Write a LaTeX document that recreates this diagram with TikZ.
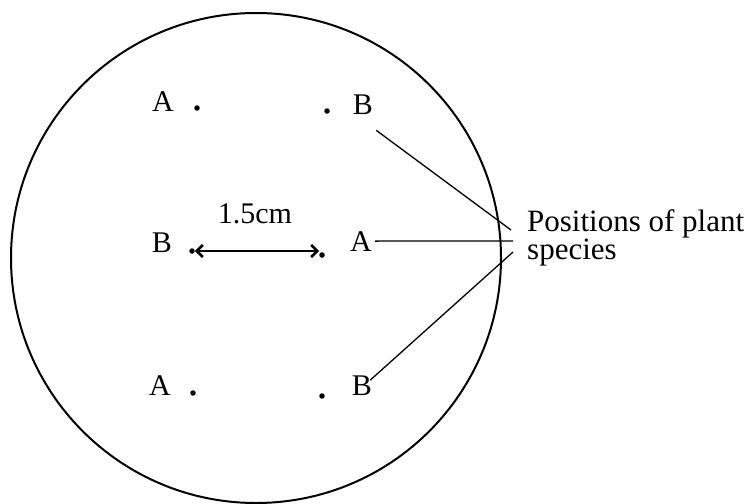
\documentclass[tikz,border=0pt]{standalone}
\usepackage{fontspec}
\setmainfont{Liberation Serif}
\usepackage{tikz}
\usetikzlibrary{arrows.meta,calc}
\tikzset{>=Stealth}

\begin{document}
\begin{tikzpicture}[x=1pt,y=-1pt]
  \tikzset{
    plab/.style={inner sep=3pt, anchor=base, font=\fontsize{30}{30}\selectfont},
    pdot/.style={circle, fill=black, inner sep=0pt, minimum size=5.5pt},
    lead/.style={line width=1.3pt}
  }
  \useasboundingbox (0,0) rectangle (756,504);
  \draw[line width=2pt] (256,258) circle[radius=245];

  % top row
  \node[plab] (tA) at (163,111) {A};
  \node[pdot] (td1) at (197,108) {};
  \node[pdot] (td2) at (327,111) {};
  \node[plab] (tB) at (363,114) {B};
  % middle row
  \node[plab] (mB) at (162,252) {B};
  \node[pdot] (md1) at (192,251) {};
  \node[pdot] (md2) at (322,255) {};
  \node[plab] (mA) at (361,251) {A};
  % bottom row
  \node[plab] (bA) at (160,395) {A};
  \node[pdot] (bd1) at (193,393) {};
  \node[pdot] (bd2) at (322,396) {};
  \node[plab] (bB) at (362,395) {B};

  \node[plab] (dist) at (255,223) {1.5cm};
  \draw[<->, line width=2.6pt, >={Straight Barb[length=6pt,width=12pt]}]
    (md1.east) -- (md1.east -| md2.west);

  \node[inner sep=0pt, anchor=base west, align=left,
    font=\fontsize{31}{28}\selectfont] (pos) at (527,259) {Positions of plant\\species};
  \coordinate (e1) at (511,230);
  \coordinate (e2) at (513,241);
  \coordinate (e3) at (513,252);
  \draw[lead] ($(tB.south east)+(0,13)$) -- (e1);
  \draw[lead] (mA.east) -- (e2);
  \draw[lead] ($(bB.north east)+(-5,8)$) -- (e3);
\end{tikzpicture}
\end{document}
